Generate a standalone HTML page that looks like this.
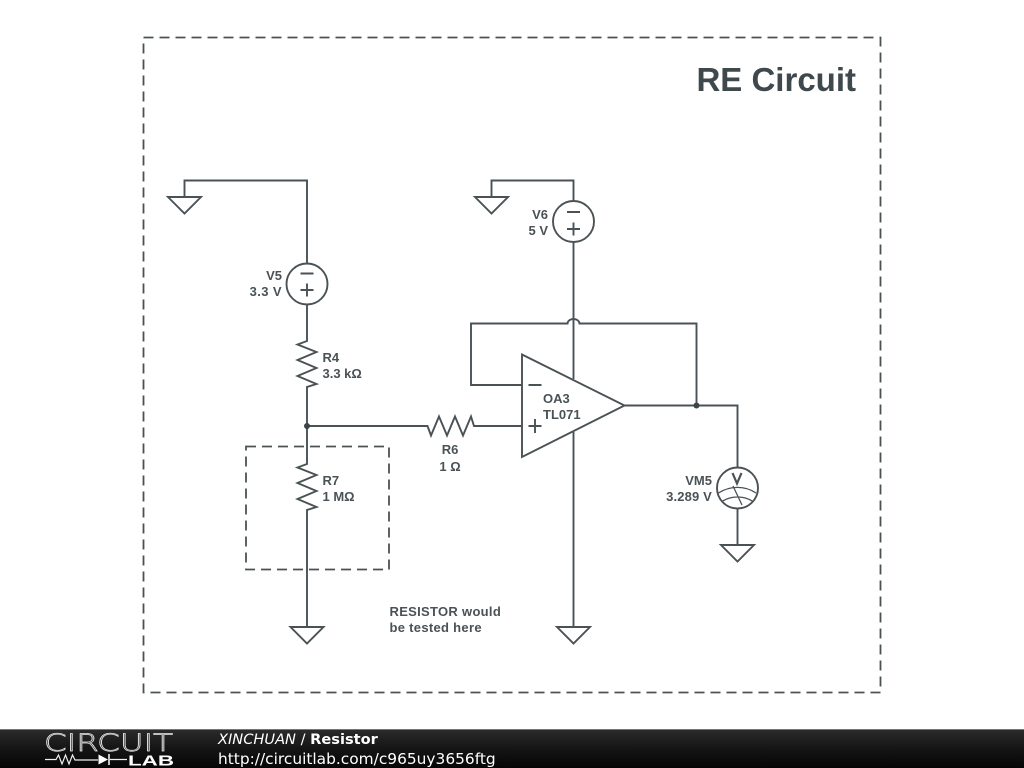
<!DOCTYPE html>
<html><head><meta charset="utf-8">
<style>
html,body{margin:0;padding:0;background:#fff;width:1024px;height:768px;overflow:hidden}
svg{display:block;position:absolute;left:0;top:0}
.l{font-family:"Liberation Sans",sans-serif;font-size:13px;font-weight:bold;fill:#4a5256;stroke:none}
.e{text-anchor:end}
.m{text-anchor:middle}
.f{font-family:"DejaVu Sans",sans-serif;font-size:14.6px;fill:#fff;stroke:none}
</style></head>
<body>
<svg width="1024" height="768" viewBox="0 0 1024 768" xmlns="http://www.w3.org/2000/svg">
<defs><linearGradient id="g" x1="0" y1="0" x2="0" y2="1"><stop offset="0" stop-color="#2c2c2c"/><stop offset="0.5" stop-color="#151515"/><stop offset="1" stop-color="#060606"/></linearGradient></defs>
<g fill="none" stroke="#4a5256" stroke-width="1.900">
<!-- dashed boxes -->
<rect x="143.500" y="37.500" width="737" height="655" stroke-dasharray="10 6" stroke-width="1.800"/>
<rect x="246" y="446.500" width="143" height="123" stroke-dasharray="10 6" stroke-width="1.800"/>
<!-- left branch -->
<path d="M184.500 197V180.500H307V263"/>
<path d="M168 197H201L184.500 213.500Z"/>
<circle cx="307" cy="284" r="20.500"/>
<path d="M300.500 273.500H313.500M300.500 290H313.500M307 283.500V296.500"/>
<path d="M307 304.500V341L297.500 344.500L316.500 352L297.500 360L316.500 368L297.500 376L316.500 384L307 387V464L297.500 467.500L316.500 475L297.500 483L316.500 491L297.500 499L316.500 507L307 510V627"/>
<path d="M290.500 627H323.500L307 643.500Z"/>
<!-- R6 -->
<path d="M307 426H427.500L431 435.500L439 416.500L447 435.500L455 416.500L463 435.500L471 416.500L474 426H522"/>
<!-- V6 -->
<path d="M491.500 197V180.500H573.500V201"/>
<path d="M475 197H508L491.500 213.500Z"/>
<circle cx="573.500" cy="221.500" r="20.500"/>
<path d="M567 212H580M567 229H580M573.500 222.500V235.500"/>
<path d="M573.500 242V379"/>
<path d="M573.500 432V627"/>
<path d="M557 627H590L573.500 643.500Z"/>
<!-- feedback -->
<path d="M522 385H471V323.500H567.500C568 317.500 579 317.500 579.500 323.500H696.500V405.500"/>
<!-- opamp -->
<path d="M522 354.500L624.500 405.500L522 457Z" fill="#fff"/>
<path d="M528.500 385H541.500M528.500 426H541.500M535 419V433"/>
<path d="M624.500 405.500H737.500V468"/>
<!-- VM5 -->
<circle cx="737.500" cy="488" r="20.500"/>
<path d="M732.500 473L737 483.500L741.500 473" stroke-width="2.200"/>
<path d="M718.500 493C730 485.500 745 485.500 756 493M722 501.500C731 495.500 744 495.500 753 501.500M733 486L742 505" stroke-width="1.300"/>
<path d="M737.500 508.500V545"/>
<path d="M721 545H754L737.500 561.500Z"/>
</g>
<circle cx="307" cy="426" r="3" fill="#3c4448"/>
<circle cx="696.500" cy="405.500" r="3" fill="#3c4448"/>
<!-- labels -->
<text x="856" y="91" text-anchor="end" style="font-family:'Liberation Sans',sans-serif;font-size:33px;font-weight:bold;fill:#3f484d">RE Circuit</text>
<text class="l e" x="282" y="280">V5</text>
<text class="l e" x="282" y="296" letter-spacing="0.400">3.3 V</text>
<text class="l e" x="548" y="219">V6</text>
<text class="l e" x="548" y="235">5 V</text>
<text class="l" x="322.500" y="362">R4</text>
<text class="l" x="322.500" y="378">3.3 kΩ</text>
<text class="l" x="322.500" y="485">R7</text>
<text class="l" x="322.500" y="501">1 MΩ</text>
<text class="l m" x="450" y="454">R6</text>
<text class="l m" x="450" y="471">1 Ω</text>
<text class="l" x="543" y="403">OA3</text>
<text class="l" x="543" y="419">TL071</text>
<text class="l e" x="712" y="485">VM5</text>
<text class="l e" x="712" y="501" letter-spacing="0.150">3.289 V</text>
<text class="l" x="389.500" y="616" letter-spacing="0.300">RESISTOR would</text>
<text class="l" x="389.500" y="632" letter-spacing="0.300">be tested here</text>
<!-- footer -->
<rect x="0" y="729" width="1024" height="39" fill="url(#g)"/>
<rect x="0" y="729" width="1024" height="1" fill="#777"/>
<text x="44" y="751" textLength="129" lengthAdjust="spacingAndGlyphs" style="font-family:'DejaVu Sans',sans-serif;font-size:24px;font-weight:200;fill:none;stroke:#e8e8e8;stroke-width:0.700">CIRCUIT</text>
<path d="M45 759.500H56L58.500 755L62 764L65.500 755L69 764L72.500 755L75 760H98M110 759.500H127" fill="none" stroke="#eee" stroke-width="1.200"/>
<path d="M98.500 754.500L108 759.500L98.500 764.500Z" fill="#fff"/>
<path d="M109 754V765" stroke="#fff" stroke-width="1.500"/>
<text x="128" y="765.500" textLength="46" lengthAdjust="spacingAndGlyphs" style="font-family:'Liberation Sans',sans-serif;font-size:15px;font-weight:bold;fill:#fff">LAB</text>
<text class="f" x="218" y="744"><tspan font-style="italic">XINCHUAN</tspan> / <tspan font-weight="bold">Resistor</tspan></text>
<text class="f" x="218" y="764" style="font-size:15.4px">http://circuitlab.com/c965uy3656ftg</text>
</svg>
</body></html>
